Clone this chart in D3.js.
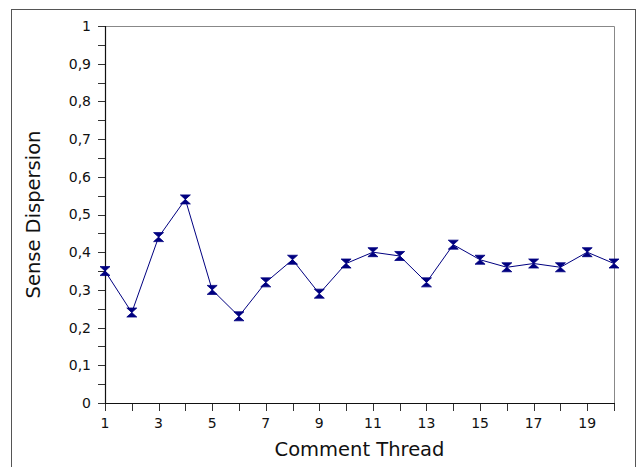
<!DOCTYPE html>
<html><head><meta charset="utf-8">
<script src="https://cdn.jsdelivr.net/npm/d3@7"></script>
<style>body{margin:0;background:#fff}svg{display:block}</style>
</head><body>
<svg id="c" width="639" height="467"></svg>
<script>
const threads = [1,2,3,4,5,6,7,8,9,10,11,12,13,14,15,16,17,18,19,20];
const dispersion = [0.35,0.24,0.44,0.54,0.30,0.23,0.32,0.38,0.29,0.37,0.40,0.39,0.32,0.42,0.38,0.36,0.37,0.36,0.40,0.37];
const yTicks = [0,0.1,0.2,0.3,0.4,0.5,0.6,0.7,0.8,0.9,1];
const xLabelTicks = [1,3,5,7,9,11,13,15,17,19];

const svg = d3.select("#c");
const L=105,R=614,T=26,B=403;
const x = d3.scaleLinear().domain([1,20]).range([L,R]);
const y = d3.scaleLinear().domain([0,1]).range([B,T]);
const font = "DejaVu Sans, sans-serif";

svg.append("rect").attr("x",11.5).attr("y",9.5).attr("width",624).attr("height",470)
  .attr("fill","none").attr("stroke","#555").attr("stroke-width",1);

// top/right border
svg.append("path").attr("d",`M${L},${T+0.5}H${R+0.5}V${B}`).attr("fill","none").attr("stroke","#888").attr("stroke-width",1);

// y axis
const minor = d3.range(0,1.0001,0.05);
const yg = svg.append("g");
minor.forEach(v=>{
  yg.append("line").attr("x1",L-7).attr("x2",L).attr("y1",Math.round(y(v))+0.5).attr("y2",Math.round(y(v))+0.5).attr("stroke","#333");
});
yTicks.forEach(v=>{
  yg.append("text").attr("x",L-14).attr("y",y(v)).attr("dy","0.35em").attr("text-anchor","end")
    .attr("font-family",font).attr("font-size",14).attr("fill","#111")
    .text(d3.format(".1~f")(v).replace(".",","));
});
yg.append("line").attr("x1",L+0.5).attr("x2",L+0.5).attr("y1",T).attr("y2",B).attr("stroke","#111").attr("stroke-width",1.2);

// x axis
const xg = svg.append("g");
threads.forEach(v=>{
  xg.append("line").attr("x1",Math.round(x(v))+0.5).attr("x2",Math.round(x(v))+0.5).attr("y1",B).attr("y2",B+8).attr("stroke","#333");
});
xLabelTicks.forEach(v=>{
  xg.append("text").attr("x",x(v)).attr("y",B+25).attr("text-anchor","middle")
    .attr("font-family",font).attr("font-size",14).attr("fill","#111").text(v);
});
xg.append("line").attr("x1",L).attr("x2",R+1).attr("y1",B+0.5).attr("y2",B+0.5).attr("stroke","#111").attr("stroke-width",1.2);

// line
const data = threads.map((t,i)=>({t,v:dispersion[i]}));
svg.append("path").datum(data).attr("fill","none").attr("stroke","#000080").attr("stroke-width",1)
  .attr("d",d3.line().x(d=>x(d.t)).y(d=>y(d.v)));

// markers (hourglass)
svg.selectAll(".m").data(data).enter().append("path")
  .attr("transform",d=>`translate(${x(d.t)},${y(d.v)})`)
  .attr("d","M-5,-4.5H5L0,0L5,4.5H-5L0,0Z")
  .attr("fill","#000080").attr("stroke","#000080").attr("stroke-width",0.8);

// titles
svg.append("text").attr("transform",`translate(40,${(T+B)/2}) rotate(-90)`).attr("text-anchor","middle")
  .attr("font-family",font).attr("font-size",19.5).attr("fill","#111").text("Sense Dispersion");
svg.append("text").attr("x",(L+R)/2).attr("y",456).attr("text-anchor","middle")
  .attr("font-family",font).attr("font-size",19.5).attr("fill","#111").text("Comment Thread");
</script>
</body></html>
